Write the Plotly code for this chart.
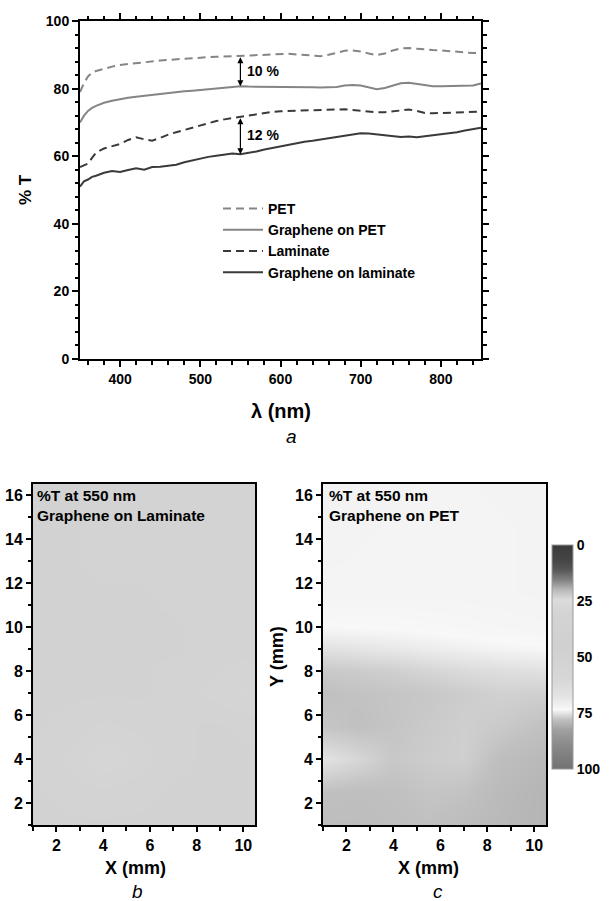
import plotly.graph_objects as go

# ---------------- data: transmission spectra ----------------
wavelength = [350, 355, 360, 365, 370, 380, 390, 400, 410, 420, 430, 440, 450, 460, 470,
              480, 490, 500, 510, 520, 530, 540, 550, 560, 570, 580, 590, 600, 610, 620,
              630, 640, 650, 660, 670, 680, 690, 700, 710, 720, 730, 740, 750, 760, 770,
              780, 790, 800, 810, 820, 830, 840, 850]

pet = [79.0, 81.6, 83.6, 84.7, 85.2, 85.9, 86.5, 87.0, 87.3, 87.6, 87.9, 88.1, 88.3, 88.5, 88.7,
       88.9, 89.0, 89.2, 89.3, 89.4, 89.5, 89.6, 89.7, 89.8, 89.9, 90.0, 90.1, 90.3, 90.3, 90.1,
       89.9, 89.7, 89.6, 90.0, 90.6, 91.2, 91.3, 91.0, 90.4, 89.9, 90.4, 91.3, 91.9, 92.0, 91.8,
       91.5, 91.4, 91.3, 91.1, 90.8, 90.6, 90.5, 90.6]

graphene_pet = [70.0, 72.0, 73.4, 74.3, 74.9, 75.8, 76.4, 76.9, 77.3, 77.6, 77.9, 78.1, 78.4, 78.6, 78.9,
                79.2, 79.4, 79.6, 79.8, 80.0, 80.2, 80.4, 80.7, 80.6, 80.6, 80.5, 80.5, 80.6, 80.6, 80.5,
                80.5, 80.4, 80.3, 80.3, 80.5, 80.9, 81.1, 80.9, 80.3, 79.8, 80.2, 81.0, 81.6, 81.7, 81.3,
                80.9, 80.7, 80.7, 80.7, 80.8, 80.8, 80.9, 81.5]

laminate = [56.8, 57.2, 57.8, 59.5, 61.0, 62.3, 63.0, 63.6, 64.8, 65.6, 65.0, 64.6, 65.4, 66.4, 67.1,
            67.8, 68.5, 69.2, 69.8, 70.4, 70.9, 71.3, 71.7, 72.1, 72.5, 72.8, 73.1, 73.3, 73.4, 73.5,
            73.6, 73.7, 73.8, 73.9, 73.9, 73.9, 73.7, 73.4, 73.1, 73.0, 73.0, 73.3, 73.6, 73.8, 73.4,
            72.8, 72.7, 72.8, 72.9, 73.0, 73.1, 73.2, 73.2]

graphene_laminate = [51.0, 52.6, 53.1, 53.9, 54.2, 55.1, 55.6, 55.3, 55.9, 56.4, 56.0, 56.8, 56.9, 57.2, 57.5,
                     58.2, 58.8, 59.3, 59.8, 60.1, 60.5, 60.8, 60.6, 60.9, 61.4, 62.0, 62.5, 62.9, 63.4, 63.9,
                     64.3, 64.6, 65.0, 65.3, 65.7, 66.1, 66.5, 66.8, 66.7, 66.4, 66.1, 65.9, 65.7, 65.8, 65.6,
                     65.9, 66.2, 66.4, 66.7, 67.1, 67.6, 68.0, 68.4]

series_names = ["PET", "Graphene on PET", "Laminate", "Graphene on laminate"]

# gaps marked by the arrows (at 550 nm)
gap_x = 550
gap_pet = (89.7, 80.7, "10 %")
gap_lam = (71.7, 60.6, "12 %")

# ---------------- data: %T maps at 550 nm ----------------
map_x = [1, 2.5, 4, 5.5, 7, 8.5, 10.5]            # mm
map_y = [1, 2.5, 4, 5.5, 7, 8, 9, 10, 11.5, 13, 14.5, 16.5]  # mm

map_laminate = [
    [50, 50, 50, 50, 50, 50, 50],
    [50, 51, 52, 51, 50, 50, 50],
    [51, 53, 57, 54, 51, 50, 50],
    [50, 51, 53, 52, 51, 50, 51],
    [50, 50, 50, 50, 51, 53, 56],
    [50, 50, 50, 50, 51, 52, 54],
    [50, 50, 50, 50, 50, 51, 52],
    [50, 50, 50, 50, 50, 51, 51],
    [50, 50, 50, 50, 51, 52, 52],
    [50, 50, 51, 51, 51, 52, 52],
    [50, 50, 51, 51, 52, 52, 52],
    [50, 50, 51, 51, 52, 52, 52],
]

map_pet = [
    [78.4, 78.4, 78.2, 78.0, 78.4, 79.0, 79.6],
    [78.0, 78.2, 78.0, 77.6, 77.8, 78.8, 79.6],
    [75.2, 76.2, 77.4, 77.0, 76.8, 78.2, 79.1],
    [77.6, 78.0, 77.6, 77.2, 76.8, 77.2, 78.0],
    [78.0, 77.8, 77.6, 77.4, 77.0, 76.6, 76.8],
    [77.3, 77.1, 76.8, 76.3, 75.9, 75.6, 75.4],
    [75.4, 75.1, 74.8, 74.5, 74.2, 73.9, 73.7],
    [73.6, 73.5, 73.4, 73.2, 73.0, 72.8, 72.6],
    [72.4, 72.4, 72.4, 72.4, 72.4, 72.3, 72.2],
    [72.2, 72.3, 72.4, 72.4, 72.4, 72.3, 72.2],
    [72.0, 72.2, 72.3, 72.4, 72.4, 72.3, 72.2],
    [71.8, 72.0, 72.2, 72.3, 72.3, 72.2, 72.1],
]

# colour bar: %T value -> grey level
cbar_stops = [0, 7, 11, 15.5, 20, 24.5, 30, 45, 60, 68, 73.5, 78, 82.6, 90, 100]
cbar_colors = ["#3a3a3a", "#464646", "#565656", "#808080", "#b8b8b8", "#dcdcdc", "#d4d4d4",
               "#d0d0d0", "#d7d7d7", "#e4e4e4", "#f8f8f8", "#c0c0c0", "#a0a0a0", "#888888", "#727272"]
cbar_ticks = [0, 25, 50, 75, 100]

# ---------------- figure ----------------
LIGHT = "#858585"
DARK = "#3a3a3a"
styles = [
    dict(color=LIGHT, width=2, dash="8px,5px"),
    dict(color=LIGHT, width=2),
    dict(color=DARK, width=2, dash="8px,5px"),
    dict(color=DARK, width=2),
]
fig = go.Figure()
for name, ys, st in zip(series_names, [pet, graphene_pet, laminate, graphene_laminate], styles):
    fig.add_trace(go.Scatter(x=wavelength, y=ys, mode="lines", name=name, line=st,
                             xaxis="x", yaxis="y"))

# colour bar displayed with 0 at top: plot 100 - value with reversed scale
rev_scale = sorted([[(100 - s) / 100.0, c] for s, c in zip(cbar_stops, cbar_colors)], key=lambda p: p[0])
fig.add_trace(go.Heatmap(x=map_x, y=map_y, z=[[100 - v for v in row] for row in map_laminate],
                         coloraxis="coloraxis", zsmooth="best", xaxis="x2", yaxis="y2",
                         showlegend=False, hoverinfo="skip"))
fig.add_trace(go.Heatmap(x=map_x, y=map_y, z=[[100 - v for v in row] for row in map_pet],
                         coloraxis="coloraxis", zsmooth="best", xaxis="x3", yaxis="y3",
                         showlegend=False, hoverinfo="skip"))

W, H = 609, 901
def px(x): return x / W
def py(y): return 1 - y / H

FONT = "Liberation Sans, Arial, sans-serif"
bold = lambda s: dict(family=FONT, size=s, color="black", weight="bold")

def axis_common(**kw):
    d = dict(showline=True, linewidth=2, linecolor="black", showgrid=False, zeroline=False,
             ticks="outside", tickwidth=2, tickcolor="black", fixedrange=True, automargin=False)
    d.update(kw)
    return d

fig.update_layout(
    width=W, height=H, autosize=False,
    margin=dict(l=0, r=0, t=0, b=0, pad=0, autoexpand=False),
    paper_bgcolor="white", plot_bgcolor="white",
    font=dict(family=FONT, color="black"),
    xaxis=axis_common(domain=[px(80), px(481)], anchor="y", range=[350, 850], dtick=100, tick0=0,
                      ticklen=6, mirror="allticks", tickfont=bold(14),
                      minor=dict(dtick=20, tick0=0, ticks="outside", ticklen=3.5, tickwidth=1.5, tickcolor="black")),
    yaxis=axis_common(domain=[py(359), py(21)], anchor="x", range=[0, 100], dtick=20, tick0=0,
                      ticklen=6, mirror="allticks", tickfont=bold(14),
                      minor=dict(dtick=4, tick0=0, ticks="outside", ticklen=3.5, tickwidth=1.5, tickcolor="black")),
    xaxis2=axis_common(domain=[px(33), px(255)], anchor="y2", range=[1, 10.5], dtick=2, tick0=0,
                       ticklen=5, mirror=True, tickfont=bold(16),
                       minor=dict(dtick=1, tick0=0, ticks="outside", ticklen=3.5, tickwidth=1.5, tickcolor="black")),
    yaxis2=axis_common(domain=[py(825), py(484)], anchor="x2", range=[1, 16.5], dtick=2, tick0=0,
                       ticklen=5, mirror=True, tickfont=bold(16),
                       minor=dict(dtick=1, tick0=0, ticks="outside", ticklen=3.5, tickwidth=1.5, tickcolor="black")),
    xaxis3=axis_common(domain=[px(323), px(546)], anchor="y3", range=[1, 10.5], dtick=2, tick0=0,
                       ticklen=5, mirror=True, tickfont=bold(16),
                       minor=dict(dtick=1, tick0=0, ticks="outside", ticklen=3.5, tickwidth=1.5, tickcolor="black")),
    yaxis3=axis_common(domain=[py(825), py(484)], anchor="x3", range=[1, 16.5], dtick=2, tick0=0,
                       ticklen=5, mirror=True, tickfont=bold(16),
                       minor=dict(dtick=1, tick0=0, ticks="outside", ticklen=3.5, tickwidth=1.5, tickcolor="black")),
    coloraxis=dict(cmin=0, cmax=100, colorscale=rev_scale,
                   colorbar=dict(x=px(552), xanchor="left", y=py(769), yanchor="bottom",
                                 len=(769 - 545) / H, lenmode="fraction", thickness=21,
                                 thicknessmode="pixels", outlinewidth=1, outlinecolor="#999999",
                                 tickvals=[100 - t for t in cbar_ticks], ticktext=[str(t) for t in cbar_ticks],
                                 ticks="", tickfont=bold(14), xpad=0, ypad=0)),
    legend=dict(x=px(218), y=py(193), xanchor="left", yanchor="top", bgcolor="rgba(0,0,0,0)",
                font=bold(14), tracegroupgap=0, itemwidth=40),
    showlegend=True,
)

def txt(x, y, text, font, angle=0, xa="center", ya="middle", align="center"):
    return dict(x=px(x), y=py(y), xref="paper", yref="paper", text=text, showarrow=False,
                textangle=angle, xanchor=xa, yanchor=ya, align=align, font=font)

ital = dict(family=FONT, size=19, color="black")
ann = []
# gap arrows
for top, bot, label in [gap_pet, gap_lam]:
    ann.append(dict(x=gap_x, y=bot, ax=gap_x, ay=top, xref="x", yref="y", axref="x", ayref="y",
                    showarrow=True, arrowhead=2, arrowsize=1, arrowwidth=1.2, arrowcolor="black",
                    arrowside="end+start", text=""))
    ann.append(dict(x=gap_x + 6, y=(top + bot) / 2, xref="x", yref="y", text=label, showarrow=False,
                    xanchor="left", yanchor="middle", font=bold(14)))
# titles
ann += [
    txt(25, 190, "% T", bold(17), angle=-90),
    txt(281, 411, "λ (nm)", bold(20)),
    txt(291, 436, "<i>a</i>", ital),
    txt(135, 868, "X (mm)", bold(18)),
    txt(428, 868, "X (mm)", bold(18)),
    txt(137, 891, "<i>b</i>", ital),
    txt(438, 891, "<i>c</i>", ital),
    txt(277, 657, "Y (mm)", bold(18), angle=-90),
    txt(35, 485, "%T at 550 nm<br>Graphene on Laminate", bold(15.5), xa="left", ya="top", align="left"),
    txt(327, 485, "%T at 550 nm<br>Graphene on PET", bold(15.5), xa="left", ya="top", align="left"),
]
fig.update_layout(annotations=ann)

fig.write_html("out.html")
